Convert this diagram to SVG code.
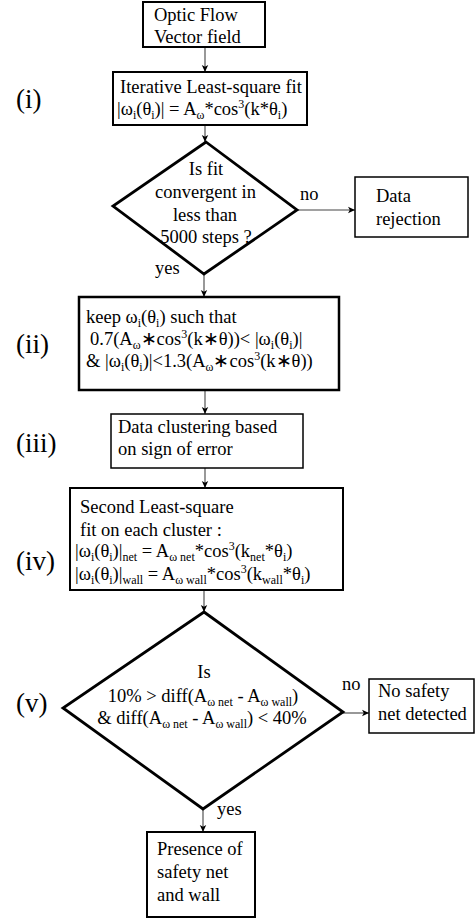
<svg xmlns="http://www.w3.org/2000/svg" width="475" height="920" viewBox="0 0 475 920">
<defs>
<marker id="ah" markerWidth="8" markerHeight="8" refX="7" refY="4" orient="auto" markerUnits="userSpaceOnUse">
<path d="M0,0.8 L7,4 L0,7.2 L1.8,4 Z" fill="#000"/>
</marker>
</defs>
<style>
text{font-family:"Liberation Serif","Times New Roman",serif;font-size:18.5px;fill:#000}
.lab{font-size:27px}
.c{text-anchor:middle}
.sb{font-size:12px;baseline-shift:-4px}
.sp{font-size:12px;baseline-shift:7px}
.box{fill:#fff;stroke:#000;stroke-width:2}
.thin{stroke-width:1.5}
.thick{stroke-width:2.5}
.dia{fill:#fff;stroke:#000;stroke-width:2.8;stroke-linejoin:miter}
.con{stroke:#444;stroke-width:1.1;fill:none;marker-end:url(#ah)}
</style>
<rect width="475" height="920" fill="#fff"/>

<g id="connectors">
<line class="con" x1="205" y1="47" x2="205" y2="72"/>
<line class="con" x1="205" y1="125" x2="205" y2="142"/>
<line class="con" x1="297" y1="210" x2="355" y2="210"/>
<line class="con" x1="204" y1="274" x2="204" y2="297"/>
<line class="con" x1="205" y1="390" x2="205" y2="414"/>
<line class="con" x1="205" y1="468" x2="205" y2="488"/>
<line class="con" x1="204" y1="590" x2="204" y2="612"/>
<line class="con" x1="343" y1="713" x2="369" y2="713"/>
<line class="con" x1="203" y1="809" x2="203" y2="832"/>
<text x="300" y="200">no</text>
<text x="155" y="274">yes</text>
<text x="342" y="690">no</text>
<text x="217" y="815">yes</text>
</g>

<g id="labels">
<text class="lab" x="16" y="108">(i)</text>
<text class="lab" x="16" y="353">(ii)</text>
<text class="lab" x="16" y="452">(iii)</text>
<text class="lab" x="16" y="570">(iv)</text>
<text class="lab" x="16" y="712">(v)</text>
</g>

<g id="n1">
<rect class="box" x="143" y="2" width="122" height="45"/>
<text x="154" y="21">Optic Flow</text>
<text x="154" y="43">Vector field</text>
</g>

<g id="n2">
<rect class="box" x="113" y="72" width="194" height="53"/>
<text x="120" y="93">Iterative Least-square fit</text>
<text x="117" y="115">|ω<tspan class="sb">i</tspan>(θ<tspan class="sb">i</tspan>)| = A<tspan class="sb">ω</tspan>*cos<tspan class="sp">3</tspan>(k*θ<tspan class="sb">i</tspan>)</text>
</g>

<g id="d1">
<polygon class="dia" points="206,142 297,210 204,274 113,206"/>
<text class="c" x="206" y="175">Is fit</text>
<text class="c" x="205.5" y="198">convergent in</text>
<text class="c" x="205" y="221">less than</text>
<text class="c" x="206" y="243">5000 steps ?</text>
</g>

<g id="n_reject">
<rect class="box thin" x="355" y="177" width="113" height="60"/>
<text x="376" y="202">Data</text>
<text x="376" y="225">rejection</text>
</g>

<g id="n3">
<rect class="box thick" x="79" y="297" width="260" height="93"/>
<text x="86" y="323">keep ω<tspan class="sb">i</tspan>(θ<tspan class="sb">i</tspan>) such that</text>
<text x="90" y="345">0.7(A<tspan class="sb">ω</tspan>∗cos<tspan class="sp">3</tspan>(k∗θ))&lt; |ω<tspan class="sb">i</tspan>(θ<tspan class="sb">i</tspan>)|</text>
<text x="86" y="367">&amp; |ω<tspan class="sb">i</tspan>(θ<tspan class="sb">i</tspan>)|&lt;1.3(A<tspan class="sb">ω</tspan>∗cos<tspan class="sp">3</tspan>(k∗θ))</text>
</g>

<g id="n4">
<rect class="box thin" x="111" y="414" width="192" height="54"/>
<text x="118" y="433">Data clustering based</text>
<text x="118" y="455">on sign of error</text>
</g>

<g id="n5">
<rect class="box" x="70" y="488" width="273" height="102"/>
<text x="80" y="513">Second Least-square</text>
<text x="80" y="536">fit on each cluster :</text>
<text x="75" y="557">|ω<tspan class="sb">i</tspan>(θ<tspan class="sb">i</tspan>)|<tspan class="sb">net</tspan> = A<tspan class="sb">ω net</tspan>*cos<tspan class="sp">3</tspan>(k<tspan class="sb">net</tspan>*θ<tspan class="sb">i</tspan>)</text>
<text x="75" y="580">|ω<tspan class="sb">i</tspan>(θ<tspan class="sb">i</tspan>)|<tspan class="sb">wall</tspan> = A<tspan class="sb">ω wall</tspan>*cos<tspan class="sp">3</tspan>(k<tspan class="sb">wall</tspan>*θ<tspan class="sb">i</tspan>)</text>
</g>

<g id="d2">
<polygon class="dia" points="204,612 343,712 203,809 63,708"/>
<text class="c" x="204" y="678">Is</text>
<text class="c" x="203" y="702">10% &gt; diff(A<tspan class="sb">ω net</tspan> - A<tspan class="sb">ω wall</tspan>)</text>
<text class="c" x="202" y="724">&amp; diff(A<tspan class="sb">ω net</tspan> - A<tspan class="sb">ω wall</tspan>) &lt; 40%</text>
</g>

<g id="n_nosafety">
<rect class="box thin" x="369" y="679" width="105" height="54"/>
<text x="378" y="697">No safety</text>
<text x="378" y="720">net detected</text>
</g>

<g id="n_presence">
<rect class="box" x="147" y="832" width="108" height="85"/>
<text x="157" y="855">Presence of</text>
<text x="157" y="878">safety net</text>
<text x="157" y="901">and wall</text>
</g>
</svg>
